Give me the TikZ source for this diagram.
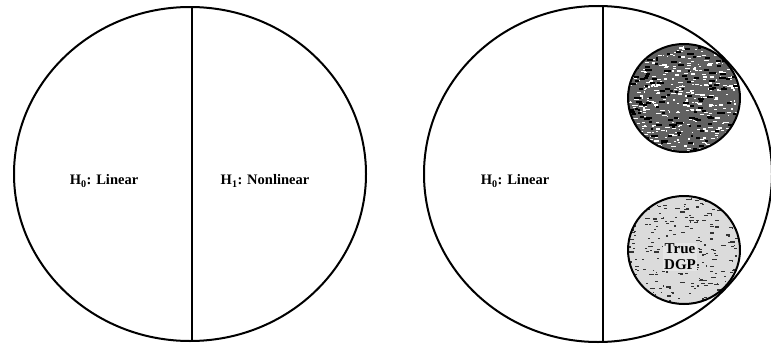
\documentclass[tikz,border=0pt]{standalone}
\usepackage{fontspec}
\setmainfont{Liberation Serif}
\begin{document}
\begin{tikzpicture}[x=1pt,y=-1pt,
  outer/.style={draw=black,line width=2pt},
  divider/.style={draw=black,line width=1.4pt},
  inner/.style={draw=black,line width=2pt},
  lbl/.style={font=\fontsize{14.5}{16}\selectfont\bfseries,inner sep=1pt}]
\useasboundingbox (0,0) rectangle (771,348);
\begin{scope}
\clip (0,0) rectangle (771,348);
% left diagram
\draw[outer] (190,174) ellipse [x radius=176, y radius=167];
\coordinate (ltop) at (192,7);
\coordinate (lbot) at (192,341);
\draw[divider] (ltop) -- (lbot);
\node[lbl] (l0) at (104,181) {H\textsubscript{0}: Linear};
\node[lbl] (l1) at (265,181) {H\textsubscript{1}: Nonlinear};
% right diagram
\draw[outer] (598,174) ellipse [x radius=174, y radius=168];
\coordinate (rtop) at (603,6);
\coordinate (rbot) at (603,342);
\draw[divider] (rtop) -- (rbot);
\node[lbl] (r0) at (515,181) {H\textsubscript{0}: Linear};
% top inner circle (dark texture)
\begin{scope}
\clip (684,98) ellipse [x radius=56, y radius=54];
\fill[black!62] (684,98) ellipse [x radius=56, y radius=54];
\pgfmathsetseed{7}
\foreach \i in {1,...,420}{
  \pgfmathsetmacro{\px}{628+112*rnd}
  \pgfmathsetmacro{\py}{44+108*rnd}
  \pgfmathsetmacro{\pw}{1+4*rnd}
  \fill[white] (\px,\py) rectangle ++(\pw,1.2);
}
\foreach \i in {1,...,160}{
  \pgfmathsetmacro{\px}{628+112*rnd}
  \pgfmathsetmacro{\py}{44+108*rnd}
  \pgfmathsetmacro{\pw}{2+5*rnd}
  \fill[black] (\px,\py) rectangle ++(\pw,2);
}
\end{scope}
\draw[inner] (684,98) ellipse [x radius=56, y radius=54];
\node[inner sep=0pt] (ca) at (684,98) {};
% bottom inner circle (light texture)
\begin{scope}
\clip (684,250) ellipse [x radius=56, y radius=54];
\fill[black!14] (684,250) ellipse [x radius=56, y radius=54];
\pgfmathsetseed{11}
\foreach \i in {1,...,260}{
  \pgfmathsetmacro{\px}{628+112*rnd}
  \pgfmathsetmacro{\py}{196+108*rnd}
  \pgfmathsetmacro{\pw}{1+4*rnd}
  \fill[black!80] (\px,\py) rectangle ++(\pw,1.2);
}
\end{scope}
\draw[inner] (684,250) ellipse [x radius=56, y radius=54];
\node[lbl,fill=black!10,align=center,inner sep=1.5pt,
      font=\fontsize{15}{16}\selectfont\bfseries] (dgp) at (680,257) {True\\DGP};
\end{scope}
\end{tikzpicture}
\end{document}
